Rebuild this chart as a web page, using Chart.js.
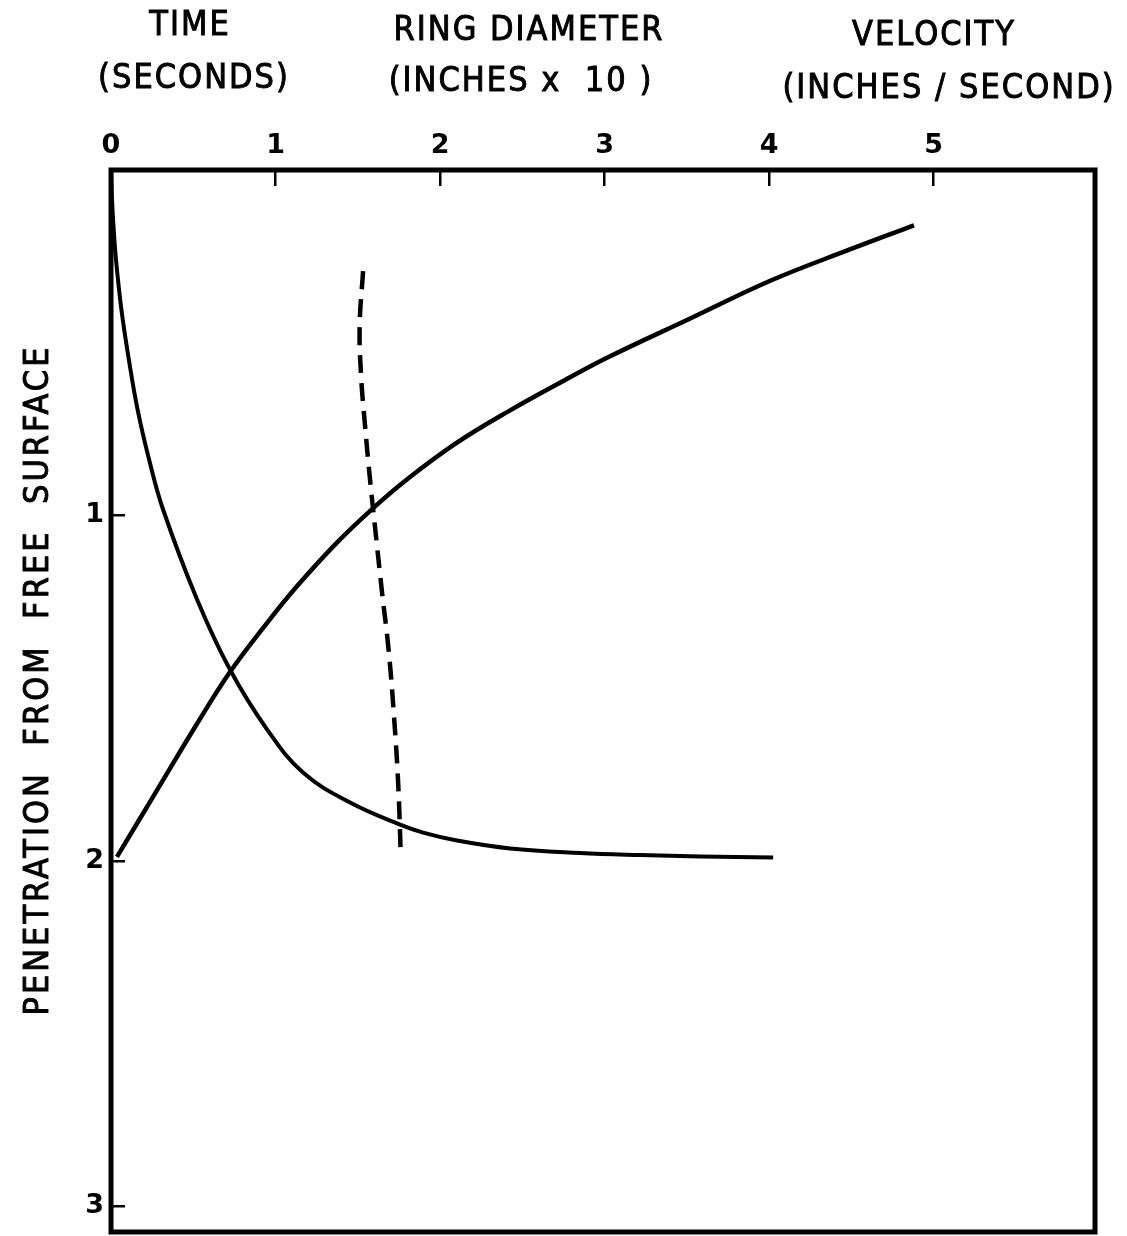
<!DOCTYPE html>
<html>
<head>
<meta charset="utf-8">
<script src="https://cdn.jsdelivr.net/npm/chart.js@4.4.1/dist/chart.umd.min.js"></script>
<style>
  html, body { margin: 0; padding: 0; background: #fff; }
  #wrap { width: 1127px; height: 1236px; }
</style>
</head>
<body>
<div id="wrap"><canvas id="chart" width="1127" height="1236"></canvas></div>
<script>
// tick values
const xTicks = [0, 1, 2, 3, 4, 5];
const yTicks = [1, 2, 3];

// time (seconds) against penetration
const timeX = [0, 0.006, 0.015, 0.030, 0.063, 0.108, 0.161, 0.231, 0.316, 0.523, 0.723, 0.948, 1.167, 1.453, 1.757, 1.897, 2.103, 2.426, 2.851, 3.216, 3.581, 4.024];
const timeY = [0, 0.084, 0.162, 0.258, 0.403, 0.547, 0.692, 0.837, 0.982, 1.243, 1.446, 1.619, 1.744, 1.831, 1.895, 1.918, 1.941, 1.964, 1.977, 1.983, 1.987, 1.990];

// velocity (inches / second) against penetration
const velX = [0.036, 0.28, 0.52, 0.72, 0.95, 1.13, 1.37, 1.59, 1.80, 2.10, 2.41, 2.79, 3.03, 3.52, 4.01, 4.49, 4.88];
const velY = [1.988, 1.795, 1.605, 1.455, 1.31, 1.205, 1.08, 0.98, 0.895, 0.79, 0.70, 0.60, 0.54, 0.43, 0.32, 0.23, 0.16];

// ring diameter (inches x 10) against penetration
const ringX = [1.532, 1.511, 1.520, 1.544, 1.574, 1.608, 1.647, 1.687, 1.720, 1.745, 1.760];
const ringY = [0.293, 0.452, 0.597, 0.741, 0.895, 1.049, 1.222, 1.388, 1.582, 1.773, 1.967];

const FONT = '"DejaVu Sans Condensed", "DejaVu Sans", sans-serif';
const TICKFONT = '"DejaVu Sans", sans-serif';

function pts(xs, ys) {
  return xs.map((x, i) => ({ x, y: ys[i] }));
}

function letter(ctx, text, x, y) {
  ctx.fillText(text, x, y);
  ctx.strokeText(text, x, y);
}

// headings and frame
const lettering = {
  id: "lettering",
  afterDraw(chart) {
    const ctx = chart.ctx;
    const a = chart.chartArea;
    ctx.save();
    ctx.strokeStyle = "#000";
    ctx.lineWidth = 5;
    ctx.lineJoin = "miter";
    ctx.strokeRect(a.left, a.top, a.right - a.left, a.bottom - a.top);

    ctx.fillStyle = "#000";
    ctx.lineWidth = 0.9;
    ctx.font = "34px " + FONT;
    ctx.letterSpacing = "2px";
    ctx.textAlign = "center";
    ctx.textBaseline = "alphabetic";
    letter(ctx, "TIME", 190, 35);
    letter(ctx, "(SECONDS)", 194, 88);
    letter(ctx, "RING DIAMETER", 529, 40);
    letter(ctx, "(INCHES x  10 )", 521, 91);
    letter(ctx, "VELOCITY", 934, 45);
    letter(ctx, "(INCHES / SECOND)", 949, 98);

    ctx.letterSpacing = "3px";
    ctx.translate(48, 680);
    ctx.rotate(-Math.PI / 2);
    letter(ctx, "PENETRATION  FROM  FREE  SURFACE", 0, 0);
    ctx.restore();
  }
};

const lineStyle = {
  showLine: true,
  borderColor: "#000",
  backgroundColor: "#000",
  pointRadius: 0,
  fill: false,
  tension: 0.4
};

new Chart(document.getElementById("chart"), {
  type: "scatter",
  data: {
    datasets: [
      Object.assign({ label: "Time", data: pts(timeX, timeY), borderWidth: 4 }, lineStyle),
      Object.assign({ label: "Velocity", data: pts(velX, velY), borderWidth: 4.5 }, lineStyle),
      Object.assign({ label: "Ring diameter", data: pts(ringX, ringY), borderWidth: 4.5,
        borderDash: [18, 10] }, lineStyle)
    ]
  },
  options: {
    responsive: false,
    maintainAspectRatio: false,
    animation: false,
    layout: { padding: { top: 0, left: 0, right: 32, bottom: 4 } },
    plugins: { legend: { display: false }, tooltip: { enabled: false } },
    scales: {
      x: {
        type: "linear",
        position: "top",
        min: 0,
        max: 5.98,
        afterFit: (s) => { s.height = 170; s.paddingLeft = 0; s.paddingRight = 0; },
        afterBuildTicks: (s) => { s.ticks = xTicks.map(v => ({ value: v })); },
        border: { display: false },
        grid: { drawOnChartArea: false, drawTicks: true, tickLength: -16, color: "#000", lineWidth: 2.5 },
        ticks: { padding: 24, color: "#000", font: { family: TICKFONT, size: 27, weight: "bold" } }
      },
      y: {
        type: "linear",
        position: "left",
        reverse: true,
        min: 0,
        max: 3.074,
        afterFit: (s) => { s.width = 111; s.paddingTop = 0; s.paddingBottom = 0; },
        afterBuildTicks: (s) => { s.ticks = yTicks.map(v => ({ value: v })); },
        border: { display: false },
        grid: { drawOnChartArea: false, drawTicks: true, tickLength: -14, color: "#000", lineWidth: 2.5 },
        ticks: { padding: 21, color: "#000", font: { family: TICKFONT, size: 27, weight: "bold" } }
      }
    }
  },
  plugins: [lettering]
});
</script>
</body>
</html>
